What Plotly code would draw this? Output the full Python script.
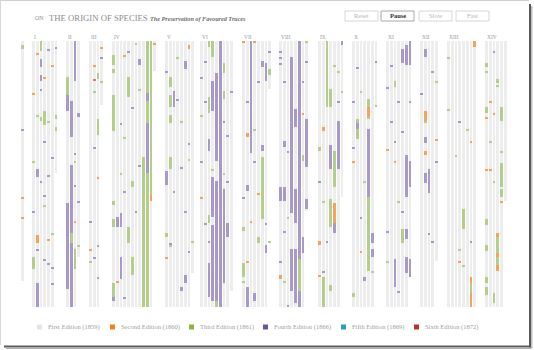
import plotly.graph_objects as go

# ---------------------------------------------------------------------------
# Data: chapters of the book, laid out as columns of text lines.
# ---------------------------------------------------------------------------
CHAPTERS = ["", "I", "II", "III", "IV", "V", "VI", "VII", "VIII", "IX", "X", "XI", "XII", "XIII", "XIV"]
PAGE_COLUMNS = [1, 7, 4, 4, 12, 8, 9, 8, 8, 7, 7, 7, 5, 8, 6]
LAST_COLUMN_LINES = [120, 66, 108, 32, 15, 116, 125, 24, 85, 78, 33, 118, 110, 133, 80]
LINES_PER_COLUMN = 133

EDITIONS = ["First Edition (1859)", "Second Edition (1860)", "Third Edition (1861)",
            "Fourth Edition (1866)", "Fifth Edition (1869)", "Sixth Edition (1872)"]

# Runs of lines that first appeared in a later edition: (chapter, column, first line, end line)
SECOND_EDITION_RUNS = [
    (1, 1, 97, 101), (4, 10, 77, 80), (5, 6, 2, 4), (7, 1, 46, 48), (8, 0, 117, 119),
    (9, 4, 81, 91), (9, 1, 43, 45), (9, 0, 100, 102), (10, 4, 33, 38),
    (12, 1, 35, 40), (12, 1, 55, 57), (13, 7, 0, 3), (13, 6, 118, 121), (13, 6, 126, 133),
    (14, 3, 96, 98), (14, 3, 106, 108), (14, 3, 112, 115),
]
THIRD_EDITION_RUNS = [
    (0, 0, 2, 4),
    (1, 2, 0, 5), (1, 3, 35, 42), (1, 2, 38, 40), (1, 6, 37, 39), (1, 6, 43, 45), (1, 0, 108, 114),
    (2, 0, 18, 27), (2, 1, 96, 101), (2, 2, 104, 114),
    (3, 2, 16, 19), (3, 2, 39, 47),
    (4, 0, 7, 12), (4, 0, 14, 16), (4, 0, 27, 45), (4, 4, 18, 28), (4, 9, 0, 26), (4, 9, 30, 41),
    (4, 9, 66, 133), (4, 10, 0, 77), (4, 8, 58, 133), (4, 0, 80, 82), (4, 0, 89, 93),
    (4, 4, 93, 101), (4, 5, 108, 117), (4, 0, 121, 128), (4, 5, 70, 73),
    (5, 1, 18, 23), (5, 1, 27, 33), (5, 1, 37, 41), (5, 1, 58, 64), (5, 0, 96, 98), (5, 1, 101, 103),
    (6, 3, 0, 8), (6, 2, 0, 3), (6, 2, 28, 36), (6, 2, 87, 91), (6, 6, 11, 16), (6, 6, 25, 29),
    (6, 4, 130, 133),
    (7, 7, 14, 17), (7, 5, 58, 89), (7, 0, 93, 95), (7, 4, 98, 101), (7, 0, 111, 118),
    (8, 5, 109, 125), (8, 6, 57, 60),
    (9, 2, 0, 33), (9, 3, 24, 33), (9, 4, 55, 73), (9, 0, 53, 55), (9, 3, 79, 93),
    (9, 1, 118, 133), (9, 3, 122, 125),
    (10, 1, 39, 41), (10, 1, 44, 49), (10, 4, 29, 33), (10, 4, 38, 39), (10, 4, 78, 115),
    (10, 0, 126, 128),
    (11, 2, 20, 23), (11, 4, 94, 101),
    (13, 4, 84, 94), (13, 6, 121, 126),
    (14, 0, 11, 13), (14, 0, 15, 16), (14, 3, 19, 21), (14, 0, 33, 36), (14, 4, 33, 40),
    (14, 4, 61, 73), (14, 4, 74, 78), (14, 0, 89, 92), (14, 3, 98, 106), (14, 3, 108, 112),
    (14, 0, 102, 105), (14, 0, 118, 121), (14, 0, 123, 127), (14, 2, 126, 131),
]
FOURTH_EDITION_RUNS = [
    (1, 2, 9, 13), (1, 2, 17, 20), (1, 4, 4, 5), (1, 1, 64, 67), (1, 1, 121, 133),
    (2, 2, 0, 20), (2, 0, 27, 35), (2, 1, 30, 48), (2, 3, 36, 38), (2, 1, 62, 96),
    (2, 1, 101, 133), (2, 0, 81, 124),
    (4, 7, 9, 12), (4, 9, 26, 30), (4, 9, 41, 66), (4, 2, 86, 93), (4, 1, 88, 93),
    (4, 2, 108, 119), (4, 0, 128, 130),
    (5, 2, 25, 33), (5, 5, 10, 14), (5, 0, 65, 72), (5, 5, 117, 121), (5, 4, 123, 125),
    (6, 5, 0, 133), (6, 4, 16, 60), (6, 4, 70, 130), (6, 3, 20, 35), (6, 3, 68, 88),
    (6, 3, 92, 130), (6, 2, 49, 55), (6, 2, 111, 128), (6, 6, 74, 121), (6, 7, 91, 98),
    (7, 2, 0, 56), (7, 5, 10, 13), (7, 6, 11, 20), (7, 5, 52, 55), (7, 1, 72, 75),
    (7, 6, 102, 106), (7, 1, 123, 133), (7, 3, 126, 130),
    (8, 5, 0, 109), (8, 5, 125, 133), (8, 3, 8, 86), (8, 4, 34, 43), (8, 4, 74, 91),
    (8, 1, 50, 53), (8, 0, 73, 80), (8, 1, 73, 80), (8, 4, 104, 131), (8, 3, 104, 125),
    (8, 7, 39, 63), (8, 6, 98, 106), (8, 7, 79, 84),
    (9, 5, 40, 64), (9, 3, 52, 64), (9, 4, 91, 96), (9, 6, 0, 2),
    (10, 1, 41, 44), (10, 4, 44, 78), (10, 5, 96, 101), (10, 5, 104, 108),
    (11, 6, 0, 12), (11, 5, 2, 12), (11, 4, 4, 11), (11, 5, 57, 78), (11, 6, 60, 73),
    (11, 5, 94, 99), (11, 2, 109, 123), (11, 5, 108, 116), (11, 6, 109, 118),
    (12, 1, 4, 8), (12, 1, 48, 51), (12, 1, 66, 71), (12, 2, 64, 76),
]
FIFTH_EDITION_RUNS = []
SIXTH_EDITION_RUNS = [(3, 1, 19, 20)]

# Single changed lines: (chapter, column, line)
SECOND_EDITION_LINES = [
    (0, 0, 78), (0, 0, 88), (1, 0, 26), (1, 3, 18), (1, 1, 6), (1, 5, 12), (1, 4, 99), (2, 2, 90),
    (3, 2, 68), (3, 0, 104), (3, 3, 3), (3, 1, 12), (4, 11, 1), (4, 3, 7), (4, 0, 91), (4, 1, 120),
    (5, 0, 108), (6, 0, 78), (7, 0, 0), (7, 3, 0), (7, 2, 90), (7, 4, 76), (7, 1, 110),
    (8, 1, 51), (8, 6, 36), (9, 2, 8), (9, 0, 117), (10, 2, 105), (10, 0, 60), (11, 0, 54),
    (11, 5, 72), (11, 2, 60), (12, 4, 49), (13, 3, 110), (13, 6, 50), (14, 2, 36), (14, 0, 38),
    (14, 1, 30), (14, 4, 80), (14, 0, 64), (14, 1, 64),
]
THIRD_EDITION_LINES = [
    (1, 1, 37), (1, 4, 40), (1, 0, 60), (1, 3, 82), (1, 5, 96), (2, 3, 102), (2, 2, 60),
    (3, 1, 25), (3, 3, 20), (3, 0, 110), (4, 6, 1), (4, 3, 48), (4, 7, 24), (4, 2, 66),
    (5, 3, 8), (5, 6, 59), (5, 4, 40), (5, 7, 100), (6, 0, 37), (6, 3, 64), (6, 6, 66),
    (7, 0, 120), (7, 3, 44), (7, 7, 100), (8, 7, 0), (8, 2, 88), (8, 1, 120), (9, 4, 12),
    (9, 5, 15), (9, 6, 25), (9, 1, 80), (10, 2, 25), (10, 3, 70), (10, 6, 32), (10, 5, 115),
    (11, 0, 110), (11, 3, 80), (12, 1, 40), (12, 4, 20), (12, 3, 100), (13, 0, 8), (13, 0, 34),
    (13, 2, 57), (13, 3, 104), (13, 5, 44), (13, 4, 112), (14, 3, 22), (14, 4, 55), (14, 1, 50),
    (14, 2, 70),
]
FOURTH_EDITION_LINES = [
    (0, 0, 44), (1, 0, 85), (1, 1, 67), (1, 4, 67), (1, 3, 77), (1, 5, 58), (1, 4, 111),
    (1, 5, 113), (1, 3, 109), (1, 2, 24), (1, 6, 3), (1, 3, 50), (1, 2, 70), (1, 1, 104),
    (1, 5, 121), (2, 2, 56), (2, 3, 80), (2, 2, 72), (3, 1, 53), (3, 2, 102), (3, 1, 108),
    (3, 3, 8), (3, 0, 90), (3, 2, 118), (4, 7, 62), (4, 3, 75), (4, 5, 33), (4, 2, 41),
    (4, 6, 85), (4, 3, 128), (4, 4, 5), (5, 2, 75), (5, 4, 63), (5, 6, 51), (5, 0, 15),
    (5, 3, 29), (5, 1, 101), (5, 5, 85), (5, 6, 105), (6, 1, 10), (6, 1, 30), (6, 1, 91),
    (6, 0, 60), (6, 7, 47), (6, 2, 100), (6, 6, 40), (6, 7, 70), (6, 0, 18), (6, 8, 25),
    (7, 6, 91), (7, 4, 20), (7, 0, 78), (7, 3, 60), (7, 7, 5), (7, 1, 30), (8, 0, 5),
    (8, 0, 8), (8, 0, 11), (8, 1, 20), (8, 2, 55), (8, 6, 20), (8, 1, 95), (8, 0, 110),
    (8, 7, 10), (8, 2, 132), (9, 0, 70), (9, 2, 100), (9, 5, 30), (9, 1, 115), (10, 1, 13),
    (10, 0, 53), (10, 3, 118), (10, 3, 119), (10, 2, 88), (10, 6, 10), (10, 0, 30),
    (11, 0, 23), (11, 1, 40), (11, 3, 30), (11, 2, 50), (11, 4, 85), (11, 0, 95), (11, 3, 125),
    (11, 1, 12), (11, 6, 30), (11, 4, 45), (12, 3, 15), (12, 2, 96), (12, 0, 26), (12, 4, 60),
    (12, 3, 100), (13, 3, 40), (13, 6, 100), (14, 2, 5),
]

BUTTONS = ["Reset", "Pause", "Slow", "Fast"]

# ---------------------------------------------------------------------------
# Layout constants (pixels)
# ---------------------------------------------------------------------------
W, H = 534, 350
CHAPTER_X = [21, 32, 66, 89, 112, 165, 200, 242, 279, 318, 352, 386, 420, 447, 485]
PITCH, COL_W = 3.75, 2.75
TOP_PX, LINE_PX = 41, 2.0

CHART_COLORS = ["#ededed", "#f6a25c", "#b3ce8a", "#a899ca", "#7fc1dc", "#d47a72"]
SWATCH_COLORS = ["#e4e4e4", "#f58220", "#8cb43f", "#6a54a0", "#2a9dc7", "#c1312b"]
SERIF = "Liberation Serif, DejaVu Serif, serif"


def col_center(ch, k):
    return CHAPTER_X[ch] + k * PITCH + COL_W / 2


def px_y(py):
    return 1 - py / H


fig = go.Figure()

# Base page columns (first-edition text)
gx, gbase, glen = [], [], []
for ch, n in enumerate(PAGE_COLUMNS):
    for k in range(n):
        gx.append(col_center(ch, k))
        gbase.append(0)
        glen.append(LINES_PER_COLUMN if k < n - 1 else LAST_COLUMN_LINES[ch])
fig.add_trace(go.Bar(x=gx, y=glen, base=gbase, width=COL_W, marker=dict(color=CHART_COLORS[0], line_width=0),
                     hoverinfo="skip", showlegend=False))

edition_runs = [SECOND_EDITION_RUNS, THIRD_EDITION_RUNS, FOURTH_EDITION_RUNS,
                FIFTH_EDITION_RUNS, SIXTH_EDITION_RUNS]
edition_lines = [SECOND_EDITION_LINES, THIRD_EDITION_LINES, FOURTH_EDITION_LINES, [], []]

for i, (runs, lines) in enumerate(zip(edition_runs, edition_lines), start=1):
    xs, bases, lens = [], [], []
    for ch, k, a, b in runs:
        xs.append(col_center(ch, k)); bases.append(a); lens.append(b - a)
    for ch, k, a in lines:
        xs.append(col_center(ch, k)); bases.append(a); lens.append(1)
    if not xs:
        continue
    fig.add_trace(go.Bar(x=xs, y=lens, base=bases, width=COL_W,
                         marker=dict(color=CHART_COLORS[i], line_width=0),
                         hoverinfo="skip", showlegend=False))

annotations = []
shapes = []

# Chapter numerals
for ch, name in enumerate(CHAPTERS):
    if name:
        annotations.append(dict(x=CHAPTER_X[ch] - 0.5, y=px_y(36.5), xref="x", yref="paper", text=name,
                                showarrow=False, xanchor="left", yanchor="middle",
                                font=dict(family=SERIF, size=5.5, color="#9a9a9a")))

# Title
annotations.append(dict(x=33, y=px_y(18.5), xref="x", yref="paper", text="ON", showarrow=False,
                        xanchor="left", yanchor="middle", font=dict(family=SERIF, size=6, color="#909090")))
annotations.append(dict(x=46.5, y=px_y(18), xref="x", yref="paper", text="THE ORIGIN OF SPECIES",
                        showarrow=False, xanchor="left", yanchor="middle",
                        font=dict(family=SERIF, size=8.7, color="#8c8c8c")))
annotations.append(dict(x=148, y=px_y(18.5), xref="x", yref="paper",
                        text="<b><i>The Preservation of Favoured Traces</i></b>",
                        showarrow=False, xanchor="left", yanchor="middle",
                        font=dict(family=SERIF, size=6.2, color="#6f6f6f")))

# Control buttons
button_x = [345, 381, 419, 456]
for name, bx in zip(BUTTONS, button_x):
    active = name == "Pause"
    shapes.append(dict(type="rect", xref="x", yref="paper", x0=bx, x1=bx + 33, y0=px_y(21), y1=px_y(11),
                       line=dict(color="#a8a8a8" if active else "#d6d6d6", width=1), fillcolor="white"))
    annotations.append(dict(x=bx + 16.5, y=px_y(16), xref="x", yref="paper",
                            text=f"<b>{name}</b>" if active else name, showarrow=False,
                            xanchor="center", yanchor="middle",
                            font=dict(family=SERIF, size=6.5, color="#333333" if active else "#b5b5b5")))

# Edition key
legend_x = [37, 110, 189, 263, 341, 414]
for lx, label, sw in zip(legend_x, EDITIONS, SWATCH_COLORS):
    shapes.append(dict(type="rect", xref="x", yref="paper", x0=lx, x1=lx + 5, y0=px_y(329.5), y1=px_y(324.5),
                       line_width=0, fillcolor=sw))
    annotations.append(dict(x=lx + 8.5, y=px_y(327), xref="x", yref="paper", text=label, showarrow=False,
                            xanchor="left", yanchor="middle",
                            font=dict(family=SERIF, size=6.5, color="#a0a0a0")))

# Page frame with a drop shadow
shapes += [
    dict(type="line", xref="x", yref="paper", x0=0, x1=529, y0=px_y(0.5), y1=px_y(0.5),
         line=dict(color="#cfcfcf", width=1)),
    dict(type="line", xref="x", yref="paper", x0=0.5, x1=0.5, y0=px_y(0), y1=px_y(345),
         line=dict(color="#d8d8d8", width=1)),
    dict(type="line", xref="x", yref="paper", x0=4, x1=531, y0=px_y(346.5), y1=px_y(346.5),
         line=dict(color="#5a5a5a", width=2)),
    dict(type="line", xref="x", yref="paper", x0=6, x1=531, y0=px_y(348.3), y1=px_y(348.3),
         line=dict(color="#b0b0b0", width=1.2)),
    dict(type="line", xref="x", yref="paper", x0=530, x1=530, y0=px_y(4), y1=px_y(347.5),
         line=dict(color="#5a5a5a", width=2)),
    dict(type="line", xref="x", yref="paper", x0=531.8, x1=531.8, y0=px_y(6), y1=px_y(348.5),
         line=dict(color="#b0b0b0", width=1.2)),
]

fig.update_layout(
    width=W, height=H,
    margin=dict(l=0, r=0, t=0, b=0),
    paper_bgcolor="white", plot_bgcolor="white",
    barmode="overlay", bargap=0,
    showlegend=False,
    xaxis=dict(range=[0, W], visible=False, fixedrange=True),
    yaxis=dict(range=[(H - TOP_PX) / LINE_PX, -TOP_PX / LINE_PX], visible=False, fixedrange=True),
    annotations=annotations,
    shapes=shapes,
)

fig.write_html("out.html", config={"displayModeBar": False})
